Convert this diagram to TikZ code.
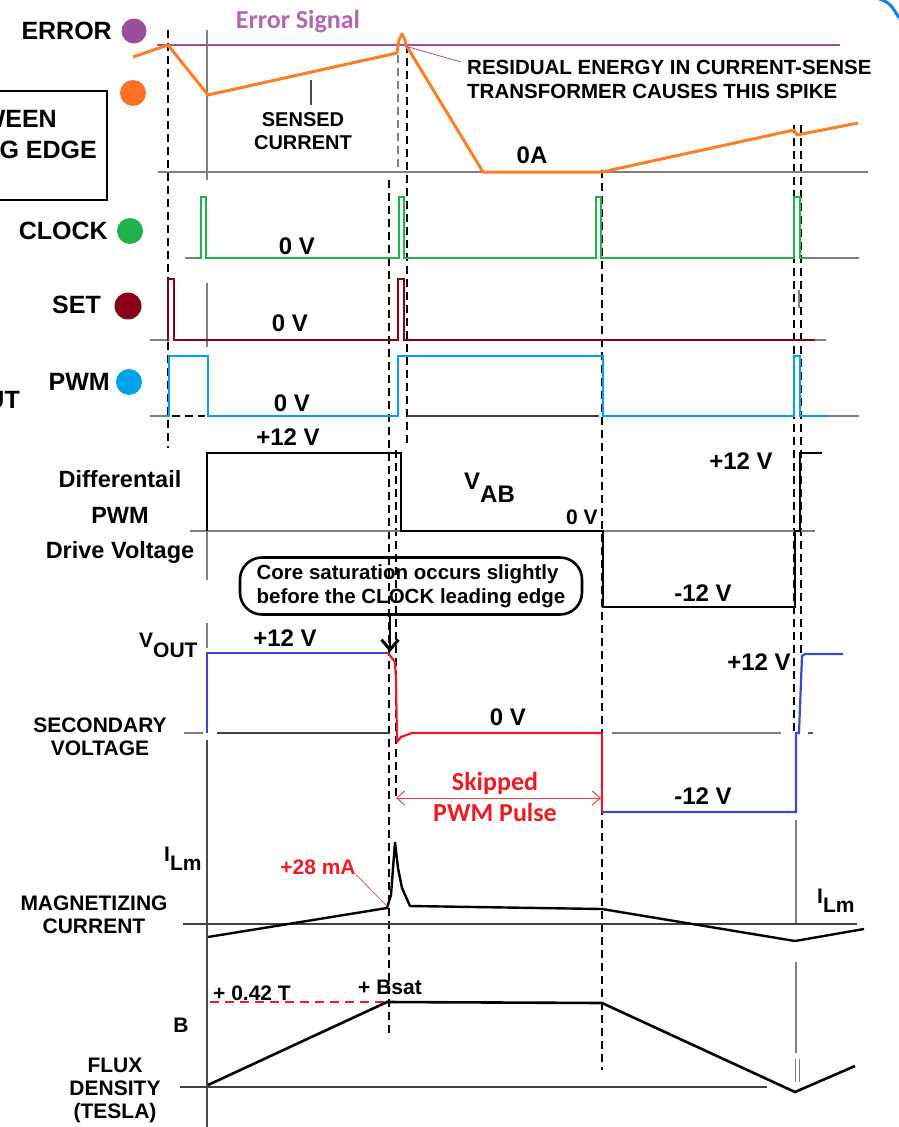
\documentclass[tikz,border=0pt]{standalone}
\usepackage{fontspec}
\setmainfont{Liberation Sans}
\newfontfamily\calib{Carlito}
\usepackage{xcolor}
\usetikzlibrary{arrows.meta}

\definecolor{errpurple}{HTML}{A64CA6}
\definecolor{dotpurple}{HTML}{9B4D9E}
\definecolor{sensorange}{HTML}{FF7F27}
\definecolor{clkgreen}{HTML}{22B14C}
\definecolor{setred}{HTML}{880015}
\definecolor{pwmblue}{HTML}{00A2E8}
\definecolor{secblue}{HTML}{3F48CC}
\definecolor{satred}{HTML}{ED1C24}

\tikzset{
  wave/.style={line width=2.2pt, line join=miter},
  base/.style={gray, line width=1.4pt},
  darkbase/.style={gray!50!black, line width=1.4pt},
  guide/.style={dashed, dash pattern=on 8pt off 5pt, line width=1.1pt},
  biglbl/.style={font=\bfseries\fontsize{25}{28}\selectfont, inner sep=0pt},
  lbl/.style={font=\bfseries\fontsize{24}{27}\selectfont, inner sep=0pt},
  smlbl/.style={font=\bfseries\fontsize{21}{23}\selectfont, inner sep=0pt, align=center},
}

\begin{document}
\begin{tikzpicture}[>=Stealth, x=1pt, y=-1pt]
  \useasboundingbox (0,0) rectangle (898,1127);
  % guide lines
  \draw[guide] (168,30) -- (168,448);
  \draw[guide, gray] (398,55) -- (398,172);
  \draw[guide] (389,180) -- (389,1038);
  \draw[guide] (407,45) -- (407,445);
  \draw[guide] (396,450) -- (396,800);
  \draw[guide] (602,170) -- (602,1070);
  \draw[guide] (794,125) -- (794,735);
  \draw[guide] (801,125) -- (801,655);
  \foreach \a/\b in {30/180, 283/347, 531/580, 623/648} \draw[gray, line width=1.2pt] (207,\a) -- (207,\b);
  \draw[gray!60!black, line width=1.2pt] (207,740) -- (207,1127);
  \draw[gray, line width=1.2pt] (799,290) -- (799,308);
  \draw[gray, line width=1.2pt] (796,820) -- (796,923);
  \draw[gray, line width=1.2pt] (796,962) -- (796,1053);
  \foreach \x in {795,799} \draw[gray, line width=1pt] (\x,1059) -- (\x,1082);
  % corner of the slide
  \draw[pwmblue!60!secblue, line width=3pt] (877,-2) .. controls (890,3) .. (899,18);

  % left box (cut off)
  \draw[line width=2.2pt] (-10,91) rectangle (107,200);
  \node[biglbl, anchor=east] (ween) at (57,119) {WEEN};
  \node[biglbl, anchor=east] (gedge) at (97,150) {G EDGE};
  \node[biglbl, anchor=east] (ut) at (20,400) {UT};

  % error / sensed current
  \node[biglbl, anchor=east] (error) at (112,31) {ERROR};
  \fill[dotpurple] (134,31) circle (12.5);
  \fill[sensorange!90!red] (133,93) circle (13);
  \draw[errpurple, line width=1.5pt] (157,45) -- (840,45);
  \node[text=errpurple!85, font=\calib\bfseries\fontsize{26}{28}\selectfont] (errsig) at (298,22) {Error Signal};
  \draw[base] (158,172) -- (868,172);
  \draw[sensorange, line width=3pt, line join=round] (133,57) -- (168,45) -- (208,95) -- (397,53) -- (399,40) -- (402,34) -- (405,40) -- (406,45) -- (483,172) -- (602,172) -- (794,130) -- (797,135) -- (858,123);
  \node[smlbl, font=\bfseries\fontsize{20}{23}\selectfont] (sensed) at (303,131) {SENSED\\CURRENT};
  \draw[gray!60!black, line width=1.2pt] (311,105) -- (311,80);
  \node[smlbl, font=\bfseries\fontsize{20.5}{24}\selectfont, anchor=west, align=left] (resid) at (467,79) {RESIDUAL ENERGY IN CURRENT-SENSE\\TRANSFORMER CAUSES THIS SPIKE};
  \coordinate (spk) at (405,46);
  \coordinate (residend) at (461,62);
  \draw[errpurple, line width=0.8pt] (spk) -- (residend);
  \node[lbl] (zeroa) at (532,155) {0A};

  % clock
  \node[biglbl, anchor=east] (clock) at (108,231) {CLOCK};
  \fill[clkgreen] (130,231) circle (13);
  \draw[base] (185,258) -- (196,258);
  \draw[wave, clkgreen] (196,258) -- (201,258) -- (201,197) -- (206,197) -- (206,258) -- (399,258) -- (399,197) -- (404,197) -- (404,258) -- (596,258) -- (596,197) -- (601,197) -- (601,258) -- (794,258) -- (794,197) -- (800,197) -- (800,258) -- (806,258);
  \draw[base] (806,258) -- (859,258);
  \node[lbl] (clk0) at (297,246) {0 V};

  % set
  \node[biglbl, anchor=east] (set) at (101,305) {SET};
  \fill[setred] (128,306) circle (13.5);
  \draw[base] (150,340) -- (167,340);
  \draw[wave, setred] (167,340) -- (168,340) -- (168,279) -- (174,279) -- (174,340) -- (398,340) -- (398,279) -- (404,279) -- (404,340) -- (815,340);
  \draw[base] (815,340) -- (826,340);
  \node[lbl] (set0) at (290,323) {0 V};

  % pwm
  \node[biglbl, anchor=east] (pwm) at (110,382) {PWM};
  \fill[pwmblue] (129,382) circle (13);
  \draw[base] (150,416) -- (168,416);
  \draw[guide] (172,416) -- (205,416);
  \draw[darkbase] (407,416) -- (599,416);
  \draw[wave, pwmblue] (166,416) -- (169,416) -- (169,356) -- (208,356) -- (208,416) -- (398,416) -- (398,356) -- (603,356) -- (603,416) -- (794,416) -- (794,356) -- (800,356) -- (800,416) -- (828,416);
  \draw[base] (828,416) -- (859,416);
  \node[lbl] (pwm0) at (292,403) {0 V};

  % differential drive voltage
  \node[lbl, align=center, font=\bfseries\fontsize{23.5}{35.5}\selectfont] (drive) at (120,517) {Differentail\\PWM\\Drive Voltage};
  \draw[base] (190,531) -- (815,531);
  \draw[wave] (207,531) -- (207,453) -- (401,453) -- (401,531) -- (603,531) -- (603,607) -- (795,607) -- (795,531) -- (800,531) -- (800,453) -- (822,453);
  \node[lbl] (vabp) at (288,437) {+12 V};
  \node[lbl, anchor=base west] (vab) at (464,489) {V\raisebox{-13pt}{AB}};
  \node[lbl, font=\bfseries\fontsize{21}{23}\selectfont] (vab0) at (582,517) {0 V};
  \node[lbl] (vabp2) at (741,461) {+12 V};
  \node[lbl] (vabn) at (703,593) {-12 V};

  % callout
  \node[draw, line width=2.6pt, rounded corners=22pt, minimum width=342pt, minimum height=57pt, align=left, font=\bfseries\fontsize{20.5}{24}\selectfont] (sat) at (411,586) {Core saturation occurs slightly\\before the CLOCK leading edge};
  \coordinate (satpt) at (390,652);
  \draw[-{Straight Barb[length=10pt, width=17pt, line width=3pt]}, line width=2.8pt] (sat.south -| satpt) -- (satpt);

  % secondary voltage
  \node[smlbl, anchor=base west, font=\bfseries\fontsize{21}{23}\selectfont] (vout) at (139,647) {V\raisebox{-10pt}{OUT}};
  \node[smlbl] (sec) at (100,737) {SECONDARY\\VOLTAGE};
  \draw[base] (184,733) -- (203,733);
  \draw[darkbase] (217,733) -- (390,733);
  \draw[base] (612,733) -- (781,733);
  \draw[secblue, line width=1.4pt] (808,733) -- (813,733);
  \draw[wave, secblue] (207,733) -- (207,653) -- (388,653);
  \draw[wave, satred, line join=round] (388,653) -- (392,658) -- (395,662) -- (396,680) -- (397,742) -- (401,737) -- (412,733) -- (602,733) -- (602,812);
  \draw[wave, secblue] (602,812) -- (796,812) -- (796,733) -- (799,733) -- (802,656) -- (805,654) -- (843,654);
  \node[lbl] (secp) at (285,638) {+12 V};
  \node[lbl] (sec0) at (508,717) {0 V};
  \node[lbl] (secp2) at (759,662) {+12 V};
  \node[lbl] (secn) at (703,796) {-12 V};
  \node[text=satred, align=center, font=\calib\bfseries\fontsize{26}{31}\selectfont] (skip) at (495,797) {Skipped\\PWM Pulse};
  \coordinate (skipl) at (396,798);
  \coordinate (skipr) at (601,798);
  \draw[satred!85, line width=1pt, {Straight Barb[length=8pt, width=14pt]}-{Straight Barb[length=8pt, width=14pt]}] (skipl) -- (skipr);

  % magnetizing current
  \node[smlbl, anchor=base west] (ilm) at (164,870) {\raisebox{9pt}{I}Lm};
  \node[smlbl] (mag) at (94,915) {MAGNETIZING\\CURRENT};
  \draw[darkbase] (183,924) -- (857,924);
  \draw[wave, line width=2.4pt] (208,937) -- (387,908) -- (391,895) -- (395,842) -- (398,868) -- (402,888) -- (410,906) -- (602,909) -- (795,941) -- (864,929);
  \node[smlbl, text=satred] (ma28) at (318,867) {+28 mA};
  \coordinate (magpt) at (387,906);
  \draw[satred!70, line width=0.9pt] (ma28.south east) -- (magpt);
  \node[smlbl, anchor=base west] (ilm2) at (817,912) {\raisebox{9pt}{I}Lm};

  % flux density
  \node[smlbl] (bpos) at (252,993) {+ 0.42 T};
  \node[smlbl] (bsat) at (390,987) {+ Bsat};
  \node[smlbl] (bname) at (181,1025) {B};
  \node[smlbl] (flux) at (115,1090) {FLUX\\DENSITY\\(TESLA)};
  \draw[darkbase] (180,1087) -- (767,1087);
  \draw[satred, dashed, dash pattern=on 9pt off 6pt, line width=1.5pt] (210,1002) -- (387,1002);
  \draw[wave, line width=2.6pt] (208,1085) -- (387,1002) -- (602,1003) -- (795,1092) -- (855,1066);
\end{tikzpicture}
\end{document}
